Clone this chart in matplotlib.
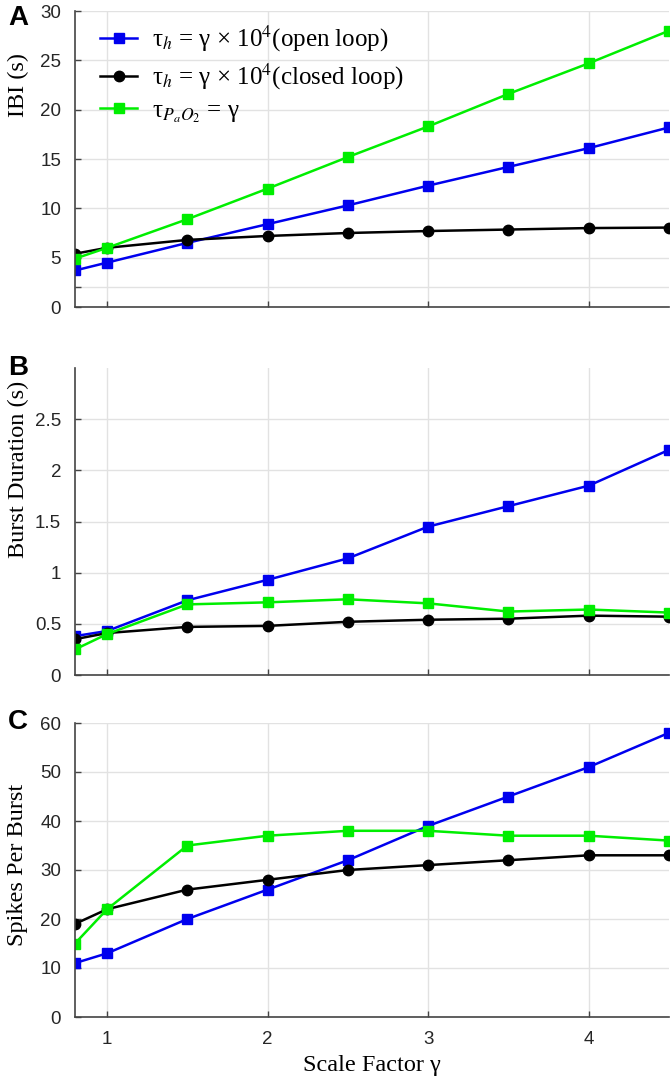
import matplotlib.pyplot as plt

plt.rcParams['mathtext.fontset'] = 'stix'

gamma = [0.8, 1, 1.5, 2, 2.5, 3, 3.5, 4, 4.5]

# A: inter-burst interval (s)
ibi_open = [3.7, 4.5, 6.5, 8.4, 10.3, 12.3, 14.2, 16.1, 18.2]
ibi_closed = [5.4, 6.0, 6.8, 7.2, 7.5, 7.7, 7.85, 8.0, 8.05]
ibi_pao2 = [4.9, 6.0, 8.9, 12.0, 15.2, 18.3, 21.6, 24.7, 28.0]

# B: burst duration (s)
dur_open = [0.38, 0.43, 0.73, 0.93, 1.14, 1.45, 1.65, 1.85, 2.2]
dur_closed = [0.35, 0.41, 0.47, 0.48, 0.52, 0.54, 0.55, 0.58, 0.57]
dur_pao2 = [0.25, 0.40, 0.69, 0.71, 0.74, 0.70, 0.62, 0.64, 0.61]

# C: spikes per burst
spk_open = [11, 13, 20, 26, 32, 39, 45, 51, 58]
spk_closed = [19, 22, 26, 28, 30, 31, 32, 33, 33]
spk_pao2 = [15, 22, 35, 37, 38, 38, 37, 37, 36]

labels = ['τ$_{h}$ = γ × 10$^{4}$(open loop)',
          'τ$_{h}$ = γ × 10$^{4}$(closed loop)',
          'τ$_{P_aO_2}$ = γ']

serif = 'Liberation Serif'
sans = 'Liberation Sans'
axcol = '#444444'

fig = plt.figure(figsize=(6.71, 10.85), dpi=100)
left, width = 75 / 671, 594 / 671
axA = fig.add_axes([left, 1 - 307 / 1085, width, 296 / 1085])
axB = fig.add_axes([left, 1 - 675 / 1085, width, 307 / 1085])
axC = fig.add_axes([left, 1 - 1017 / 1085, width, 294 / 1085])

panels = [
    (axA, ibi_open, ibi_closed, ibi_pao2, (0, 30), [0, 2, 5, 10, 15, 20, 25, 30],
     ['0', '', '5', '10', '15', '20', '25', '30']),
    (axB, dur_open, dur_closed, dur_pao2, (0, 3), [0, 0.5, 1, 1.5, 2, 2.5],
     ['0', '0.5', '1', '1.5', '2', '2.5']),
    (axC, spk_open, spk_closed, spk_pao2, (0, 60), [0, 10, 20, 30, 40, 50, 60],
     ['0', '10', '20', '30', '40', '50', '60']),
]

for ax, y_open, y_closed, y_pao2, ylim, yt, ytl in panels:
    ax.plot(gamma, y_open, color='#0000ee', marker='s', ms=6.5, lw=1.8, label=labels[0])
    ax.plot(gamma, y_closed, color='black', marker='o', ms=7.5, lw=1.8, label=labels[1])
    ax.plot(gamma, y_pao2, color='#00ee00', marker='s', ms=6.5, lw=1.8, label=labels[2])
    ax.set_xlim(0.8, 4.5)
    ax.set_ylim(*ylim)
    ax.set_xticks([1, 2, 3, 4])
    ax.set_yticks(yt)
    ax.set_yticklabels(ytl)
    ax.grid(True, color='#e2e2e2', lw=1)
    ax.set_axisbelow(True)
    for s in ['top', 'right']:
        ax.spines[s].set_visible(False)
    for s in ['left', 'bottom']:
        ax.spines[s].set_color(axcol)
        ax.spines[s].set_linewidth(1.2)
    ax.tick_params(direction='in', length=4, width=1, color=axcol,
                   labelsize=13.5, labelcolor='#262626', pad=10)
    for t in ax.get_xticklabels() + ax.get_yticklabels():
        t.set_fontfamily(sans)

axA.tick_params(labelbottom=False)
axB.tick_params(labelbottom=False)

leg = axA.legend(loc='upper left', frameon=False, handlelength=1.5,
                 prop={'family': serif, 'size': 18}, borderaxespad=0.0,
                 labelspacing=0.3, handletextpad=0.6, bbox_to_anchor=(0.025, 0.99))

fig.text(18 / 671, 1 - 85 / 1085, 'IBI (s)', rotation=90, ha='center', va='center',
         family=serif, size=17.5)
fig.text(18 / 671, 1 - 469 / 1085, 'Burst Duration (s)', rotation=90, ha='center',
         va='center', family=serif, size=17.5)
fig.text(18 / 671, 1 - 865 / 1085, 'Spikes Per Burst', rotation=90, ha='center',
         va='center', family=serif, size=17.5)
fig.text(372 / 671, 1 - 1066 / 1085, 'Scale Factor γ', ha='center', va='center',
         family=serif, size=17.5)

for letter, y in [('A', 18), ('B', 368), ('C', 722)]:
    fig.text(18 / 671, 1 - y / 1085, letter, ha='center', va='center',
             family=sans, weight='bold', size=20)

fig.savefig('out.png', dpi=100)
